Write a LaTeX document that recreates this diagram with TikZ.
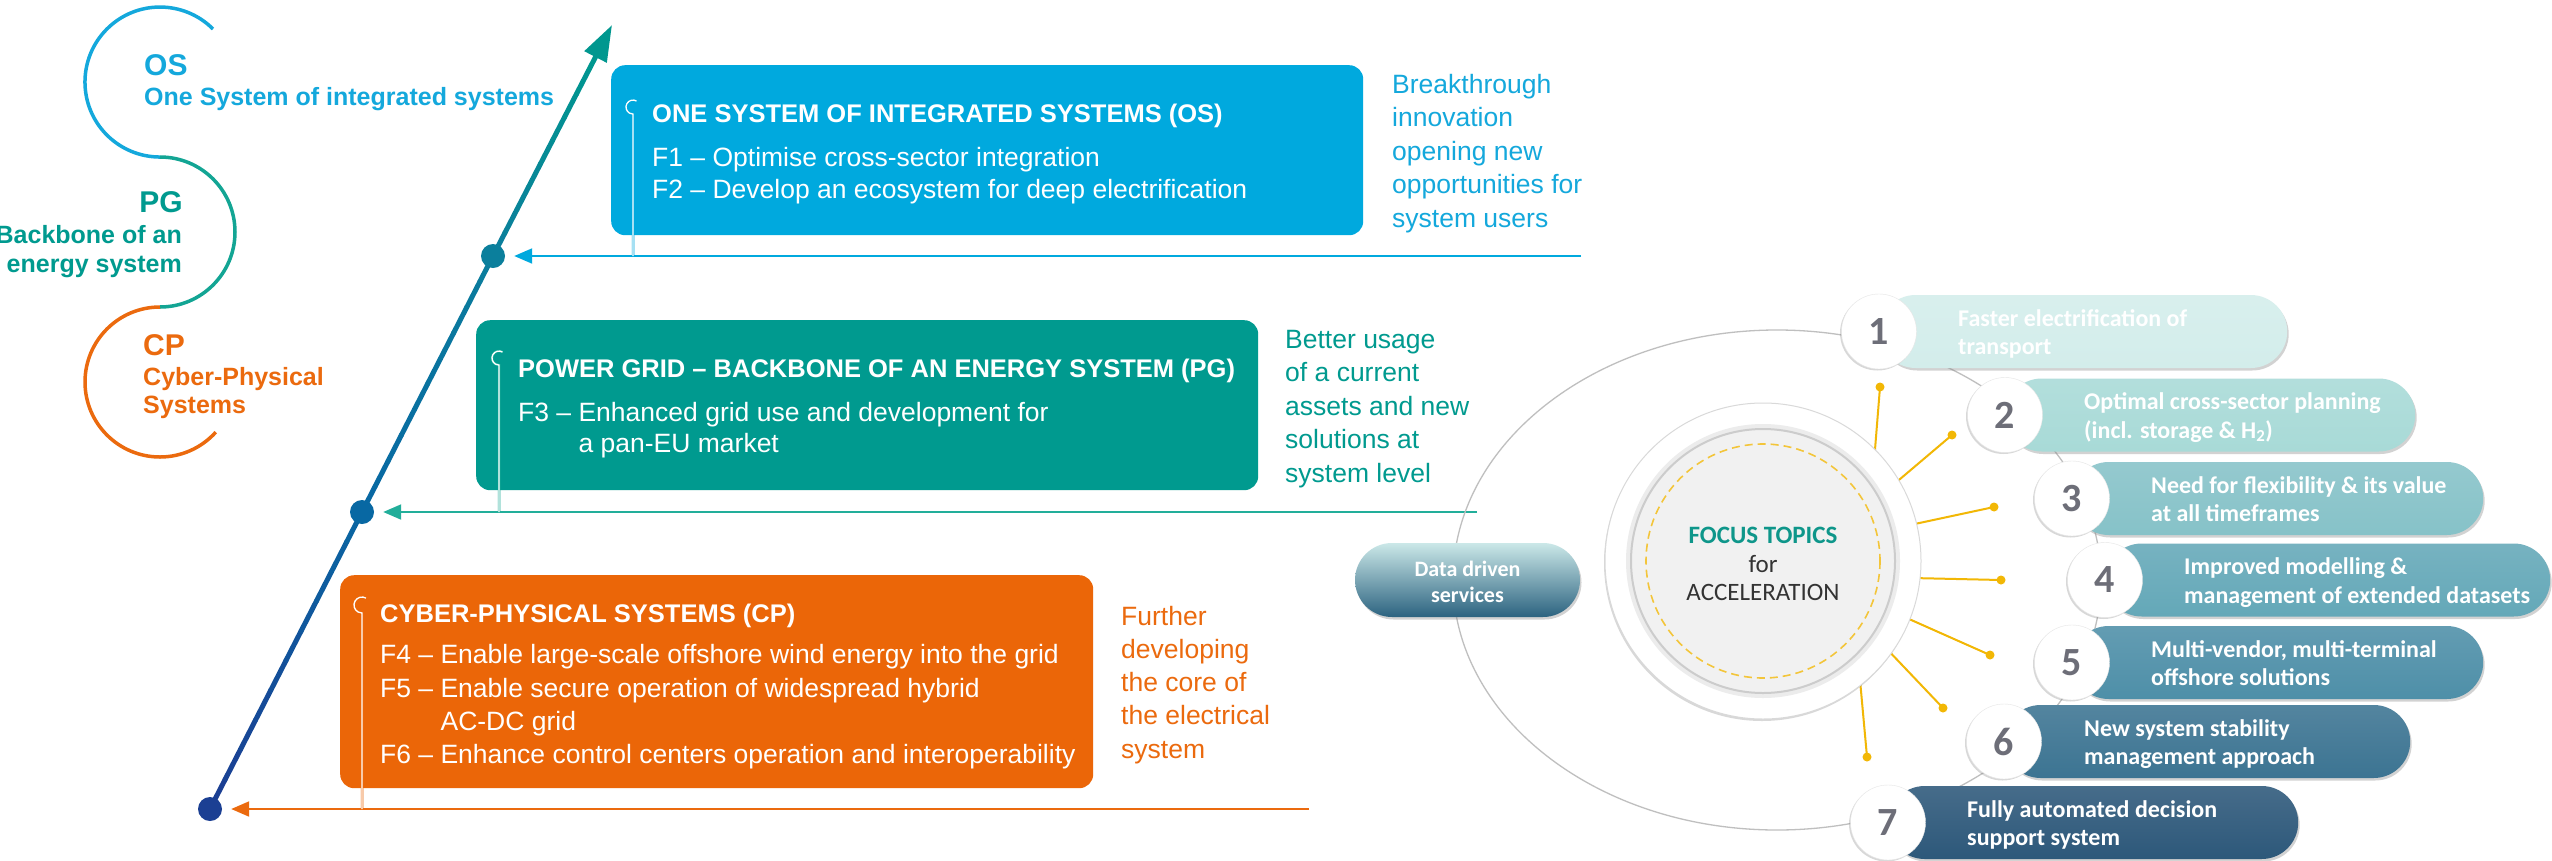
\documentclass[tikz,border=0pt]{standalone}
\usepackage{fontspec}
\setmainfont{Liberation Sans}
\newfontfamily\carl{Carlito}
\usetikzlibrary{arrows.meta,calc,shadows}
\definecolor{osc}{HTML}{00A9DE}
\definecolor{ostx}{HTML}{14A8DC}
\definecolor{pgc}{HTML}{009A8F}
\definecolor{pgarc}{HTML}{13A594}
\definecolor{pgln}{HTML}{22AE9A}
\definecolor{cpc}{HTML}{EB6608}
\definecolor{cptx}{HTML}{EB6A0E}
\definecolor{arA}{HTML}{1B3F93}
\definecolor{arB}{HTML}{0868A3}
\definecolor{arC}{HTML}{0B7F9C}
\definecolor{arD}{HTML}{00978F}
\definecolor{spk}{HTML}{F2B705}
\definecolor{dashy}{HTML}{F3C53A}
\definecolor{numg}{HTML}{6D6E78}
\definecolor{focusg}{HTML}{0E968A}
\definecolor{focusbg}{HTML}{F1F1F1}
\definecolor{txtdark}{HTML}{333333}
\definecolor{pA}{HTML}{D3EDEB}
\definecolor{pB}{HTML}{A8DAD7}
\definecolor{pC}{HTML}{86C2C8}
\definecolor{pD}{HTML}{64A8B8}
\definecolor{pE}{HTML}{4E8FA8}
\definecolor{pF}{HTML}{3C7492}
\definecolor{pG}{HTML}{2D587A}
\definecolor{ddtop}{HTML}{CBE8E8}
\definecolor{ddmid}{HTML}{7DB9C2}
\definecolor{ddbot}{HTML}{2C6380}
\newcommand\mypill[8]{%
  \node[pillbox, top color=#8!88!white, bottom color=#8, minimum width={#4-#2}] (p#1) at (#2,#3) {};
  \node[numc] (n#1) at (#2,#3) {#1};
  \node[pilltx] (p#1a) at (#5,#3-5.5) {#6};
  \node[pilltx] (p#1b) at (#5,#3+23) {#7};
}
\begin{document}
\begin{tikzpicture}[x=1pt,y=-1pt,
  txt/.style={inner sep=0pt, anchor=base west},
  txtr/.style={inner sep=0pt, anchor=base east},
  txtc/.style={inner sep=0pt, anchor=base},
  lab/.style={font=\bfseries\fontsize{25}{25}\selectfont},
  abbr/.style={font=\bfseries\fontsize{30}{30}\selectfont},
  btitle/.style={txt, text=white, font=\bfseries\fontsize{25.5}{25.5}\selectfont},
  bbody/.style={txt, text=white, font=\fontsize{26.5}{26.5}\selectfont},
  side/.style={txt, font=\fontsize{26.5}{26.5}\selectfont},
  fbox/.style={anchor=north west, rounded corners=14pt, inner sep=0pt, draw=none},
  arcline/.style={line width=3.5pt},
  arline/.style={line width=5pt, line cap=round},
  hline/.style={line width=2pt},
  hook/.style={line width=0.6pt, double=white, double distance=1.3pt},
  dotn/.style={circle, inner sep=0pt, minimum size=24pt},
  spoke/.style={draw=spk, line width=2pt},
  pillbox/.style={anchor=west, minimum height=73pt, rounded corners=36.5pt, inner sep=0pt,
    drop shadow={opacity=.35, shadow xshift=1.5pt, shadow yshift=-2.5pt}},
  numc/.style={circle, fill=white, draw=gray!20, minimum size=75pt, inner sep=0pt,
    text=numg, font=\carl\bfseries\fontsize{40}{40}\selectfont,
    drop shadow={opacity=.3, shadow xshift=-1.5pt, shadow yshift=-1.5pt}},
  pilltx/.style={anchor=base west, inner sep=0pt, text=white, font=\carl\bfseries\fontsize{24}{24}\selectfont},
  focustx/.style={anchor=base, inner sep=0pt, font=\carl\fontsize{25}{25}\selectfont}
]
\useasboundingbox (0,0) rectangle (2552,860);
\fill[white] (0,0) rectangle (2552,860);

% ---------- left S curve ----------
\draw[arcline, ostx] (213,29) arc[start angle=-45, end angle=-270, radius=75];
\draw[arcline, pgarc] (160,157) arc[start angle=-90, end angle=90, radius=75];
\draw[arcline, cptx] (160,307) arc[start angle=-90, end angle=-318, radius=75];

\node[txt, abbr, text=ostx] (osab) at (144,75) {OS};
\node[txt, lab, text=ostx] (osname) at (144,105) {One System of integrated systems};
\node[txtr, abbr, text=pgc] (pgab) at (183,212) {PG};
\node[txtr, lab, text=pgc] (pgn1) at (182,243) {Backbone of an};
\node[txtr, lab, text=pgc] (pgn2) at (182,272) {energy system};
\node[txt, abbr, text=cptx] (cpab) at (143,355) {CP};
\node[txt, lab, text=cptx] (cpn1) at (143,385) {Cyber-Physical};
\node[txt, lab, text=cptx] (cpn2) at (143,413) {Systems};

% ---------- boxes ----------
\node[fbox, fill=osc, minimum width=752pt, minimum height=170pt] (osbox) at (611,65) {};
\node[fbox, fill=pgc, minimum width=782pt, minimum height=170pt] (pgbox) at (476,320) {};
\node[fbox, fill=cpc, minimum width=753pt, minimum height=213pt] (cpbox) at (340,575) {};

\node[btitle] (ost) at (652,122) {ONE SYSTEM OF INTEGRATED SYSTEMS (OS)};
\node[bbody] (osf1) at (652,166) {F1 – Optimise cross-sector integration};
\node[bbody] (osf2) at (652,198) {F2 – Develop an ecosystem for deep electrification};

\node[btitle] (pgt) at (518,377) {POWER GRID – BACKBONE OF AN ENERGY SYSTEM (PG)};
\node[bbody] (pgf3) at (518,421) {F3 – Enhanced grid use and development for};
\node[bbody] (pgf3b) at (518,452) {\phantom{F3 – }a pan-EU market};

\node[btitle] (cpt) at (380,622) {CYBER-PHYSICAL SYSTEMS (CP)};
\node[bbody] (cpf4) at (380,663) {F4 – Enable large-scale offshore wind energy into the grid};
\node[bbody] (cpf5) at (380,697) {F5 – Enable secure operation of widespread hybrid};
\node[bbody] (cpf5b) at (380,730) {\phantom{F5 – }AC-DC grid};
\node[bbody] (cpf6) at (380,763) {F6 – Enhance control centers operation and interoperability};

% side texts
\foreach \t [count=\i] in {Breakthrough, innovation, opening new, opportunities for, system users}
  \node[side, text=ostx] (osr\i) at (1392,{93+33.5*(\i-1)}) {\t};
\foreach \t [count=\i] in {Better usage, of a current, assets and new, solutions at, system level}
  \node[side, text=pgc] (pgr\i) at (1285,{348+33.5*(\i-1)}) {\t};
\foreach \t [count=\i] in {Further, developing, the core of, the electrical, system}
  \node[side, text=cptx] (cpr\i) at (1121,{625+33.3*(\i-1)}) {\t};

% ---------- rising arrow ----------
\coordinate (cCP) at (210,809);
\coordinate (cPG) at (362,512);
\coordinate (cOS) at (493,256);
\coordinate (tip) at (612,25);
\foreach \i [evaluate=\i as \p using int(10*\i), evaluate=\i as \a using \i/10, evaluate=\i as \b using (\i+1)/10] in {0,...,9}
  \draw[arline, draw=arB!\p!arA] ($(cCP)!\a!(cPG)$) -- ($(cCP)!\b!(cPG)$);
\foreach \i [evaluate=\i as \p using int(10*\i), evaluate=\i as \a using \i/10, evaluate=\i as \b using (\i+1)/10] in {0,...,9}
  \draw[arline, draw=arC!\p!arB] ($(cPG)!\a!(cOS)$) -- ($(cPG)!\b!(cOS)$);
\foreach \i [evaluate=\i as \p using int(12.5*\i), evaluate=\i as \a using \i/10, evaluate=\i as \b using (\i+1)/10] in {0,...,7}
  \draw[arline, draw=arD!\p!arC] ($(cOS)!\a!(tip)$) -- ($(cOS)!\b!(tip)$);
\draw[line width=5pt, draw=arD, -{Triangle[length=36pt,width=24pt]}] ($(cOS)!0.8!(tip)$) -- (tip);

\node[dotn, fill=arA] (dCP) at (cCP) {};
\node[dotn, fill=arB] (dPG) at (cPG) {};
\node[dotn, fill=arC] (dOS) at (cOS) {};

% feedback arrows
\coordinate (osR) at (1581,256);
\coordinate (pgR) at (1477,512);
\coordinate (cpR) at (1309,809);
\draw[hline, draw=osc, -{Triangle[length=18pt,width=15pt]}, shorten >=9pt] (osR) -- (dOS);
\draw[hline, draw=pgln, -{Triangle[length=18pt,width=15pt]}, shorten >=9pt] (pgR) -- (dPG);
\draw[hline, draw=cptx, -{Triangle[length=18pt,width=15pt]}, shorten >=9pt] (cpR) -- (dCP);

% hooks
\coordinate (osHk) at (636.5,101);
\coordinate (osFt) at (633,256);
\coordinate (pgHk) at (502.5,352);
\coordinate (pgFt) at (499,512);
\coordinate (cpHk) at (366,598.1);
\coordinate (cpFt) at (362,809);
\draw[hook, draw=osc] (osHk) arc[start angle=-60, end angle=-270, radius=7] -- (osFt);
\draw[hook, draw=pgln] (pgHk) arc[start angle=-60, end angle=-270, radius=7] -- (pgFt);
\draw[hook, draw=cptx] (cpHk) arc[start angle=-60, end angle=-270, radius=8] -- (cpFt);

% ---------- focus topics ----------
\draw[gray!50, line width=1.3pt] (1777,580) ellipse[x radius=324, y radius=250];

\foreach \ax/\ay/\bx/\by [count=\k] in {1874/462/1880/387, 1893/485/1952/435, 1910/525/1994/507, 1912/578/2001/580, 1900/615/1990/655, 1884/646/1943/708, 1860/680/1867/757}{
  \coordinate (sa\k) at (\ax,\ay);
  \coordinate (sb\k) at (\bx,\by);
  \draw[spoke] (sa\k) -- (sb\k);
  \fill[spk] (sb\k) circle[radius=4.5];
}

\node[circle, fill=white, draw=gray!30, line width=1pt, minimum size=316pt, inner sep=0pt,
  drop shadow={opacity=.3, shadow xshift=-1pt, shadow yshift=-2pt}] (fout) at (1763,561) {};
\node[circle, draw=gray!15, line width=6pt, minimum size=268pt, inner sep=0pt] (fhalo) at (1763,561) {};
\node[circle, fill=focusbg, draw=gray!40, line width=2pt, minimum size=264pt, inner sep=0pt] (fin) at (1763,561) {};
\draw[dashy, dash pattern=on 8pt off 5pt, line width=1.6pt] (1763,561) circle[radius=117];
\node[focustx, text=focusg, font=\carl\bfseries\fontsize{25}{25}\selectfont] (ft1) at (1763,543) {FOCUS TOPICS};
\node[focustx, text=txtdark] (ft2) at (1763,572) {for};
\node[focustx, text=txtdark] (ft3) at (1763,600) {ACCELERATION};

% data driven
\node[minimum width=225pt, minimum height=74pt, rounded corners=37pt, inner sep=0pt,
  top color=ddtop, middle color=ddmid, bottom color=ddbot,
  drop shadow={opacity=.35, shadow xshift=1.5pt, shadow yshift=-2.5pt}] (dds) at (1467.5,580) {};
\node[txtc, text=white, font=\carl\bfseries\fontsize{22}{22}\selectfont] (dds1) at (1467.5,576) {Data driven};
\node[txtc, text=white, font=\carl\bfseries\fontsize{22}{22}\selectfont] (dds2) at (1467.5,602) {services};

% pills
\mypill{1}{1879}{331.5}{2287}{1958}{Faster electrification of}{transport}{pA}
\mypill{2}{2005}{415}{2415}{2084}{Optimal cross-sector planning}{(incl. storage \& H\textsubscript{2})}{pB}
\mypill{3}{2072}{498.5}{2483}{2151}{Need for flexibility \& its value}{at all timeframes}{pC}
\mypill{4}{2105}{580}{2550}{2184}{Improved modelling \&}{management of extended datasets}{pD}
\mypill{5}{2072}{662.5}{2483}{2151}{Multi-vendor, multi-terminal}{offshore solutions}{pE}
\mypill{6}{2004}{741.5}{2410}{2084}{New system stability}{management approach}{pF}
\mypill{7}{1888}{822.5}{2298}{1967}{Fully automated decision}{support system}{pG}
\end{tikzpicture}
\end{document}
